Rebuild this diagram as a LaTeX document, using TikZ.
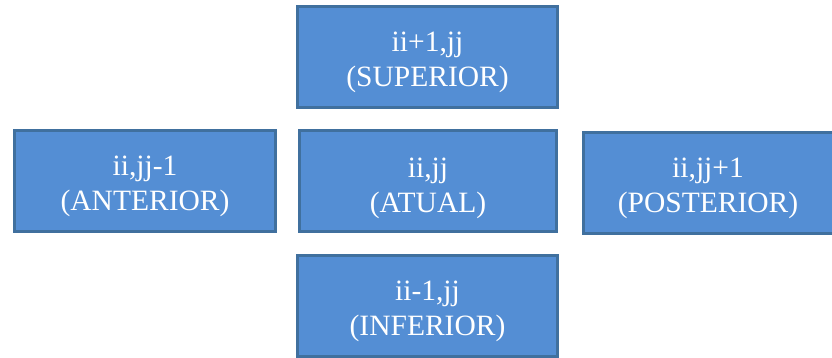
\documentclass[tikz,border=0pt]{standalone}
\usepackage{fontspec}
\setmainfont{Liberation Serif}
\definecolor{cellfill}{RGB}{84,142,212}
\definecolor{celledge}{RGB}{64,112,158}
\begin{document}
\begin{tikzpicture}[x=1pt,y=1pt,
  cell/.style={draw=celledge, fill=cellfill, line width=3pt,
    inner sep=0pt, minimum height=101pt},
  celltext/.style={text=white, inner sep=0pt, align=center,
    font=\fontsize{29.5}{35}\selectfont}]
\useasboundingbox (0,0) rectangle (832,358);
% neighbouring cells of the stencil
\node[cell, minimum width=260pt] (sup) at (427.5,300.5) {};
\node[cell, minimum width=261pt] (ant) at (145,176.5) {};
\node[cell, minimum width=257pt] (atu) at (428,176.5) {};
\node[cell, minimum width=250pt] (pos) at (708,174.5) {};
\node[cell, minimum width=260pt] (inf) at (427.5,52) {};
% cell labels
\node[celltext] (supt) at ([yshift=-5pt]sup.center) {ii+1,jj\\(SUPERIOR)};
\node[celltext] (antt) at ([yshift=-5pt]ant.center) {ii,jj-1\\(ANTERIOR)};
\node[celltext] (atut) at ([yshift=-7pt]atu.center) {ii,jj\\(ATUAL)};
\node[celltext] (post) at ([yshift=-5pt]pos.center) {ii,jj+1\\(POSTERIOR)};
\node[celltext] (inft) at ([yshift=-5pt]inf.center) {ii-1,jj\\(INFERIOR)};
\end{tikzpicture}
\end{document}
